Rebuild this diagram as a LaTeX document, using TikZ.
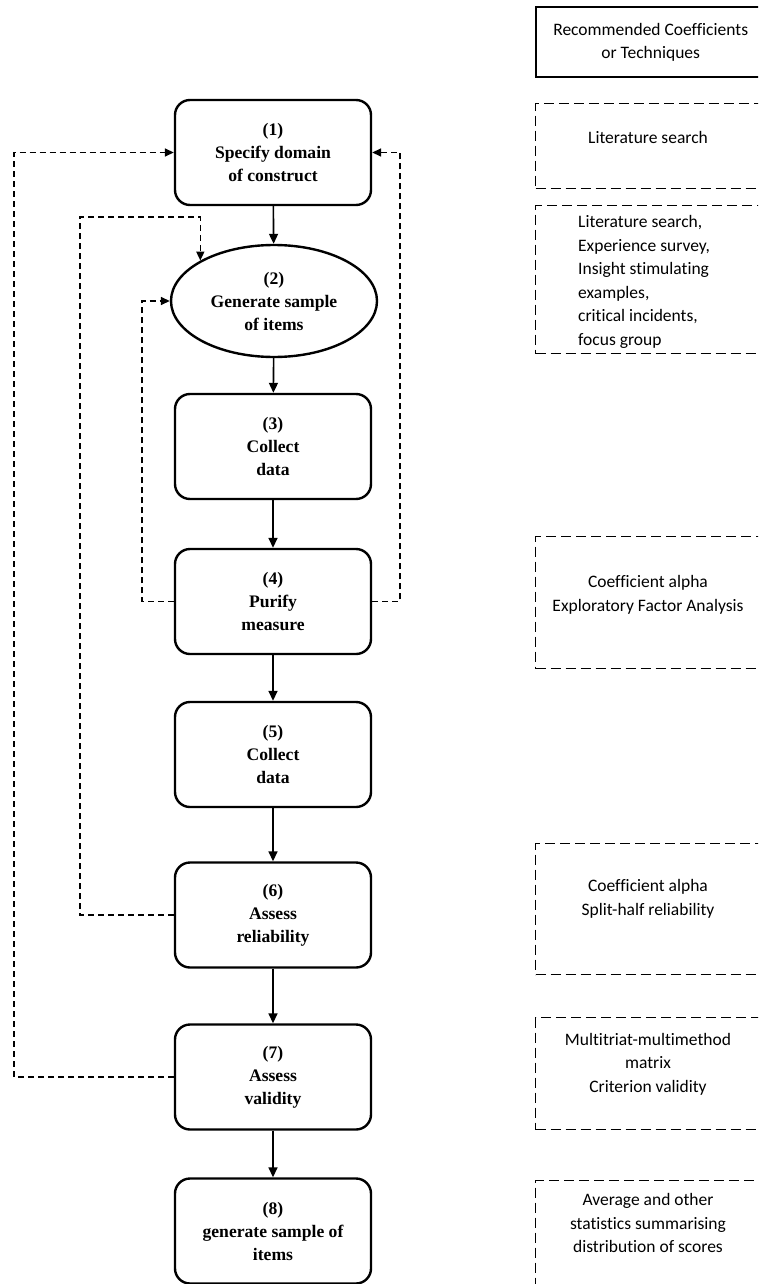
\documentclass[tikz,border=0pt]{standalone}
\usepackage{fontspec}
\setmainfont{Liberation Serif}
\newfontfamily\techfont[Ligatures=NoCommon]{Carlito}
\usetikzlibrary{shapes.geometric,arrows.meta}
\begin{document}
\begin{tikzpicture}[x=1pt,y=-1pt,
  stepbox/.style={draw,line width=2.4pt,rounded corners=15pt,minimum width=196pt,minimum height=105pt,
    align=center,inner sep=0pt,font=\bfseries\fontsize{17.6}{23}\selectfont},
  stepoval/.style={draw,line width=2.4pt,ellipse,minimum width=206pt,minimum height=112pt,
    align=center,inner sep=0pt,font=\bfseries\fontsize{17.6}{23}\selectfont},
  techbox/.style={draw,line width=1.4pt,dash pattern=on 10pt off 5pt,minimum width=229pt,anchor=north west,inner sep=0pt},
  headbox/.style={draw,line width=2.4pt,minimum width=229pt,anchor=north west,inner sep=0pt,
    align=center,font=\techfont\fontsize{17.5}{23.5}\selectfont},
  techtext/.style={align=center,inner sep=0pt,font=\techfont\fontsize{17.5}{23.5}\selectfont},
  flow/.style={line width=1.6pt,-{Triangle[length=10pt,width=9pt]}},
  back/.style={line width=1.6pt,dash pattern=on 6pt off 4pt,-{Triangle[length=9pt,width=8pt]}}]
\clip (0,0) rectangle (758,1284);
\fill[white] (0,0) rectangle (758,1284);

% main sequence of steps
\node[stepbox]  (b1) at (273,152.5) {(1)\\Specify domain\\of construct};
\node[stepoval] (e2) at (274,301)   {(2)\\Generate sample\\of items};
\node[stepbox]  (b3) at (273,446.5) {(3)\\Collect\\data};
\node[stepbox]  (b4) at (273,601.5) {(4)\\Purify\\measure};
\node[stepbox]  (b5) at (273,754.5) {(5)\\Collect\\data};
\node[stepbox]  (b6) at (273,915)   {(6)\\Assess\\reliability};
\node[stepbox]  (b7) at (273,1077)  {(7)\\Assess\\validity};
\node[stepbox]  (b8) at (273,1231)  {(8)\\generate sample of\\items};

\draw[flow] (b1) -- (e2);
\draw[flow] (e2) -- (b3);
\draw[flow] (b3) -- (b4);
\draw[flow] (b4) -- (b5);
\draw[flow] (b5) -- (b6);
\draw[flow] (b6) -- (b7);
\draw[flow] (b7) -- (b8);

% feedback loops
\coordinate (xo) at (14,0);
\coordinate (xm) at (80,217);
\coordinate (xi) at (142,0);
\coordinate (xr) at (400,0);
\draw[back] (b7.west) -| (xo |- b1.west) -- (b1.west);
\draw[back] (b4.east) -| (xr |- b1.east) -- (b1.east);
\draw[back] (b6.west) -| (xm) -| (e2.north west);
\draw[back] (b4.west) -| (xi |- e2.west) -- (e2.west);

% recommended coefficients or techniques
\node[headbox,minimum height=70pt] (h0) at (535,6) {Recommended Coefficients\\or Techniques};
\node[techbox,minimum height=85pt]  (k1) at (535,103) {};
\node[techbox,minimum height=148pt] (k2) at (535,205) {};
\node[techbox,minimum height=132pt] (k4) at (535,536) {};
\node[techbox,minimum height=131pt] (k6) at (535,843) {};
\node[techbox,minimum height=112pt] (k7) at (535,1017) {};
\node[techbox,minimum height=150pt] (k8) at (535,1180) {};

\node[techtext] at (648,137) {Literature search};
\node[techtext,align=left,anchor=west] at (578,282) {Literature search,\\Experience survey,\\Insight stimulating\\examples,\\critical incidents,\\focus group};
\node[techtext] at (648,595) {Coefficient alpha\\Exploratory Factor Analysis};
\node[techtext] at (648,899) {Coefficient alpha\\Split-half reliability};
\node[techtext] at (648,1064) {Multitriat-multimethod\\matrix\\Criterion validity};
\node[techtext] at (648,1223) {Average and other\\statistics summarising\\distribution of scores};
\end{tikzpicture}
\end{document}
